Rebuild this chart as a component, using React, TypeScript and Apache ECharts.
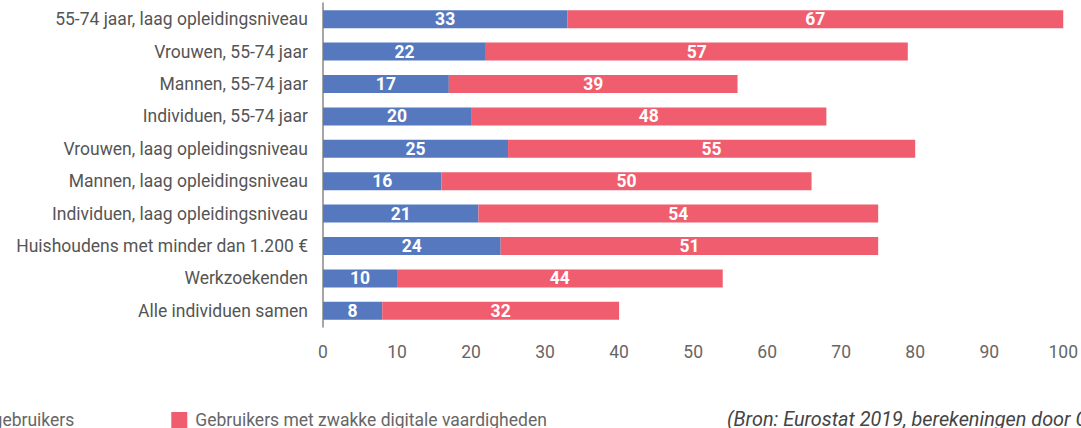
import React, { useEffect, useRef } from "react";
import * as echarts from "echarts";

const categories = [
  "55-74 jaar, laag opleidingsniveau",
  "Vrouwen, 55-74 jaar",
  "Mannen, 55-74 jaar",
  "Individuen, 55-74 jaar",
  "Vrouwen, laag opleidingsniveau",
  "Mannen, laag opleidingsniveau",
  "Individuen, laag opleidingsniveau",
  "Huishoudens met minder dan 1.200 €",
  "Werkzoekenden",
  "Alle individuen samen",
];
const nietGebruikers = [33, 22, 17, 20, 25, 16, 21, 24, 10, 8];
const zwakkeVaardigheden = [67, 57, 39, 48, 55, 50, 54, 51, 44, 32];
const seriesNames = ["Niet-gebruikers", "Gebruikers met zwakke digitale vaardigheden"];
const sourceText = "(Bron: Eurostat 2019, berekeningen door CIRB)";

export default function App() {
  const ref = useRef<HTMLDivElement>(null);
  useEffect(() => {
    document.body.style.margin = "0";
    const chart = echarts.init(ref.current!, null, { renderer: "svg" });
    const font = "Roboto, sans-serif";
    const labelStyle = {
      show: true,
      position: "inside",
      color: "#fff",
      fontWeight: "bold",
      fontSize: 17.5,
      fontFamily: font,
    };
    chart.setOption({
      animation: false,
      backgroundColor: "#fff",
      grid: { left: 323, right: 8, top: 3, bottom: 101, containLabel: false },
      xAxis: {
        type: "value",
        min: 0,
        max: 100,
        interval: 10,
        axisLine: { show: false },
        axisTick: { show: false },
        splitLine: { show: false },
        axisLabel: { color: "#666", fontSize: 17.5, fontFamily: font, margin: 16 },
      },
      yAxis: {
        type: "category",
        inverse: true,
        data: categories,
        axisLine: { show: true, lineStyle: { color: "#888", width: 1.5 } },
        axisTick: { show: false },
        axisLabel: { color: "#555", fontSize: 17.5, fontFamily: font, margin: 15 },
      },
      legend: {
        left: -73,
        top: 406,
        itemWidth: 16,
        itemHeight: 16,
        itemGap: 97,
        icon: "rect",
        textStyle: { color: "#666", fontSize: 17.5, fontFamily: font, padding: [0, 0, 0, 3] },
        data: seriesNames,
      },
      graphic: [
        {
          type: "text",
          x: 727,
          y: 419,
          scaleX: 0.945,
          style: {
            text: sourceText,
            fill: "#444",
            font: "italic 21px Roboto, sans-serif",
            verticalAlign: "middle",
          },
        },
      ],
      series: [
        {
          name: seriesNames[0],
          type: "bar",
          stack: "total",
          barWidth: 18,
          data: nietGebruikers,
          itemStyle: { color: "#5578BF" },
          label: labelStyle,
        },
        {
          name: seriesNames[1],
          type: "bar",
          stack: "total",
          barWidth: 18,
          data: zwakkeVaardigheden,
          itemStyle: { color: "#F05D6E" },
          label: labelStyle,
        },
      ],
    });
    return () => chart.dispose();
  }, []);
  return <div ref={ref} style={{ width: 1081, height: 428 }} />;
}
